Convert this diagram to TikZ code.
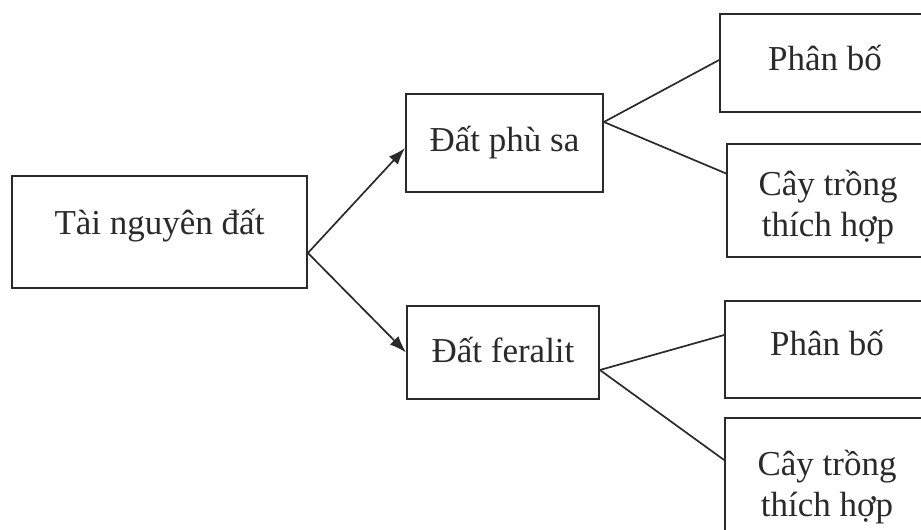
\documentclass[tikz,border=0pt]{standalone}
\usepackage{fontspec}
\setmainfont{Liberation Serif}
\usetikzlibrary{arrows.meta}
\definecolor{ink}{HTML}{2A2A2A}
\begin{document}
\begin{tikzpicture}[x=1pt,y=-1pt,
  box/.style={draw=ink, line width=1.8pt, rectangle, inner sep=0pt, text=ink,
    font=\fontsize{35}{41}\selectfont, align=center},
  link/.style={draw=ink, line width=1.7pt},
  arr/.style={link, -{Latex[length=17pt,width=12pt]}}]
\useasboundingbox (0,0) rectangle (921,530);
\clip (0,0) rectangle (921,530);
\node[box, minimum width=295pt, minimum height=112pt, text height=12pt, text depth=8pt] (root) at (159.5,232) {Tài nguyên đất};
\node[box, minimum width=197pt, minimum height=98pt, text height=20pt, text depth=4pt] (phusa) at (504.5,143) {Đất phù sa};
\node[box, minimum width=192pt, minimum height=93pt, text height=22pt, text depth=2pt] (feralit) at (503,352.5) {Đất feralit};
\node[box, minimum width=210pt, minimum height=98pt, text height=20pt, text depth=5pt] (pb1) at (825,63) {Phân bố};
\node[box, minimum width=202pt, minimum height=113pt, text height=81pt, text depth=10pt] (ct1) at (828,200.5) {Cây trồng\\thích hợp};
\node[box, minimum width=204pt, minimum height=97pt, text height=19pt, text depth=7pt] (pb2) at (827,349.5) {Phân bố};
\node[box, minimum width=204pt, minimum height=113pt, text height=92pt, text depth=8pt] (ct2) at (827,474.5) {Cây trồng\\thích hợp};
\draw[arr] ([yshift=-21pt]root.east) -- ([yshift=-5pt]phusa.west);
\draw[arr] ([yshift=-21pt]root.east) -- (feralit.west);
\draw[link] ([yshift=21pt]phusa.east) -- ([yshift=3pt]pb1.west);
\draw[link] ([yshift=21pt]phusa.east) -- ([yshift=27pt]ct1.west);
\draw[link] ([yshift=-17.5pt]feralit.east) -- ([yshift=14.5pt]pb2.west);
\draw[link] ([yshift=-17.5pt]feralit.east) -- ([yshift=14.5pt]ct2.west);
\end{tikzpicture}
\end{document}
